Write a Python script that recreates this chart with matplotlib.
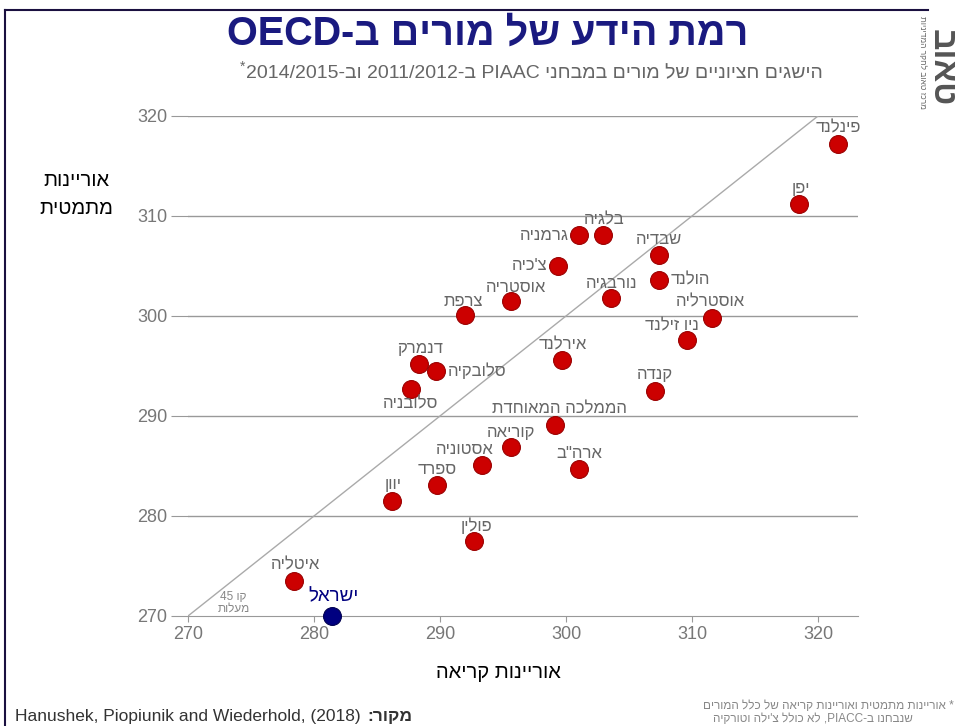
import re
import numpy as np
import matplotlib
matplotlib.use("Agg")
import matplotlib.pyplot as plt
from matplotlib.lines import Line2D

plt.rcParams['font.family'] = ['Liberation Sans', 'DejaVu Sans']

# data: reading literacy (x) vs numeracy (y) of teachers
countries = ["פינלנד", "יפן", "בלגיה", "גרמניה", "שבדיה", "צ'כיה", "הולנד",
             "נורבגיה", "אוסטריה", "צרפת", "אוסטרליה", "ניו זילנד", "אירלנד",
             "דנמרק", "סלובקיה", "סלובניה", "קנדה", "הממלכה המאוחדת", "קוריאה",
             "אסטוניה", 'ארה"ב', "ספרד", "יוון", "פולין", "איטליה"]
reading = [321.6, 318.5, 302.9, 301.0, 307.4, 299.4, 307.4,
           303.6, 295.6, 292.0, 311.6, 309.6, 299.7,
           288.3, 289.7, 287.7, 307.1, 299.1, 295.6,
           293.3, 301.0, 289.8, 286.2, 292.7, 278.4]
numeracy = [317.2, 311.2, 308.1, 308.1, 306.1, 305.0, 303.6,
            301.8, 301.5, 300.1, 299.8, 297.6, 295.6,
            295.2, 294.5, 292.7, 292.5, 289.1, 286.9,
            285.1, 284.7, 283.1, 281.5, 277.5, 273.5]
israel_name = "ישראל"
israel_reading = 281.4
israel_numeracy = 270.0

xticks = [270, 280, 290, 300, 310, 320]
yticks = [270, 280, 290, 300, 310, 320]

# label placement (pixels from the dot)
label_pos = {
    "פינלנד": (0, 16, 'center'), "יפן": (2, 16, 'center'), "בלגיה": (2, 15, 'center'),
    "גרמניה": (-10, 0, 'right'), "שבדיה": (0, 16, 'center'), "צ'כיה": (-11, 0, 'right'),
    "הולנד": (11, 0, 'left'), "נורבגיה": (0, 15, 'center'), "אוסטריה": (5, 14, 'center'),
    "צרפת": (-2, 14, 'center'), "אוסטרליה": (-2, 16, 'center'), "ניו זילנד": (-15, 14, 'center'),
    "אירלנד": (1, 15, 'center'), "דנמרק": (1, 16, 'center'), "סלובקיה": (12, 0, 'left'),
    "סלובניה": (-1, -15, 'center'), "קנדה": (-1, 16, 'center'), "הממלכה המאוחדת": (5, 16, 'center'),
    "קוריאה": (0, 14, 'center'), "אסטוניה": (-17, 16, 'center'), 'ארה"ב': (1, 15, 'center'),
    "ספרד": (0, 15, 'center'), "יוון": (1, 16, 'center'), "פולין": (2, 15, 'center'),
    "איטליה": (2, 16, 'center'),
}


def vis(s):
    # crude visual ordering for hebrew text (no bidi engine available)
    r = s[::-1]
    return re.sub(r'[A-Za-z0-9/]+', lambda m: m.group(0)[::-1], r)


W, H = 958, 726
fig = plt.figure(figsize=(W / 100, H / 100), dpi=100)
ax = fig.add_axes([188 / W, 1 - 616 / H, 670 / W, 500 / H])

grey = '#777777'
ax.set_xlim(270, 270 + 670 / 12.6)
ax.set_ylim(270, 320)
for s in ['top', 'right', 'left']:
    ax.spines[s].set_visible(False)
ax.spines['bottom'].set_color('#999999')
ax.set_xticks(xticks)
ax.set_yticks(yticks)
ax.tick_params(axis='y', length=12, color='#999999', labelcolor=grey, labelsize=13, pad=3)
ax.tick_params(axis='x', length=4, color='#999999', labelcolor=grey, labelsize=13, pad=3)
for yv in yticks[1:]:
    ax.axhline(yv, color='#999999', lw=1, zorder=1)

ax.plot([270, 320], [270, 320], color='#aaaaaa', lw=1, zorder=1)

ax.scatter(reading, numeracy, s=165, color='#cc0000', edgecolor='#9a0000', linewidth=0.8,
           zorder=3, clip_on=False)
ax.scatter([israel_reading], [israel_numeracy], s=165, color='#000080', edgecolor='#000050',
           linewidth=0.8, zorder=3, clip_on=False)

for name, xv, yv in zip(countries, reading, numeracy):
    dx, dy, ha = label_pos[name]
    ax.annotate(vis(name), (xv, yv), xytext=(dx, dy), textcoords='offset pixels',
                ha=ha, va='center', fontsize=12, color='#666666', zorder=4)
ax.annotate(vis(israel_name), (israel_reading, israel_numeracy), xytext=(2, 19),
            textcoords='offset pixels', ha='center', va='center', fontsize=13.5,
            color='#000080', zorder=4)

ax.text(273.6, 271.3, vis("קו 45") + "\n" + vis("מעלות"), ha='center', va='center',
        fontsize=8.5, color='#888888', linespacing=1.0)

# titles and axis labels
fig.text(488 / W, 1 - 34 / H, vis("רמת הידע של מורים ב-OECD"), ha='center', va='center',
         fontsize=28.5, fontweight='bold', color='#1a1a80')
fig.text(243 / W, 1 - 67 / H, "*", ha='center', va='center', fontsize=10, color='#666666')
fig.text(534 / W, 1 - 74 / H, vis("הישגים חציוניים של מורים במבחני PIAAC ב-2011/2012 וב-2014/2015"),
         ha='center', va='center', fontsize=14, color='#666666')
fig.text(76 / W, 1 - 194 / H, vis("אוריינות") + "\n" + vis("מתמטית"), ha='center', va='center',
         fontsize=14.5, color='black', linespacing=1.6)
fig.text(498 / W, 1 - 672 / H, vis("אוריינות קריאה"), ha='center', va='center',
         fontsize=14.5, color='black')

# source and footnote
fig.text(15 / W, 1 - 717 / H, "Hanushek, Piopiunik and Wiederhold, (2018)",
         ha='left', va='center', fontsize=12.5, color='#333333')
fig.text(367 / W, 1 - 717 / H, vis("מקור:"), ha='left', va='center', fontsize=12.5,
         fontweight='bold', color='#333333')
fig.text(703 / W, 1 - 706 / H, vis("* אוריינות מתמטית ואוריינות קריאה של כלל המורים"),
         ha='left', va='center', fontsize=8.5, color='#888888')
fig.text(713 / W, 1 - 719 / H, vis("שנבחנו ב-PIACC, לא כולל צ'ילה וטורקיה"),
         ha='left', va='center', fontsize=8.5, color='#888888')

# logo on the right
fig.text(941 / W, 1 - 68 / H, vis("טאוב"), rotation=270, ha='center', va='center',
         fontsize=24, fontweight='bold', color='#555555')
fig.text(922 / W, 1 - 62 / H, vis("מרכז טאוב לחקר המדיניות"), rotation=270, ha='center',
         va='center', fontsize=6, color='#666666')

# frame lines
fig.add_artist(Line2D([5 / W, 928 / W], [1 - 10 / H, 1 - 10 / H], color='#1a1040', lw=1.5))
fig.add_artist(Line2D([5 / W, 5 / W], [1 - 10 / H, 0], color='#1a1040', lw=1.5))

fig.savefig('out.png', dpi=100)
